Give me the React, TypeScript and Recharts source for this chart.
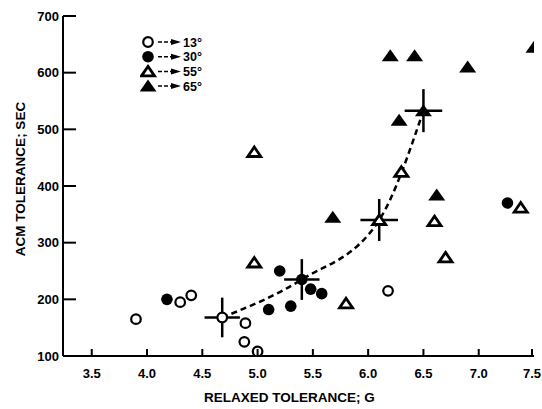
import { ScatterChart, Scatter, XAxis, YAxis, ErrorBar, Legend } from 'recharts'

// 13° group (open circles)
const OPEN_CIRCLE_X = [3.9, 4.3, 4.4, 4.89, 4.88, 5.0, 6.18]
const OPEN_CIRCLE_Y = [165, 195, 207, 158, 125, 108, 215]
// 30° group (filled circles)
const FILLED_CIRCLE_X = [4.18, 5.2, 5.1, 5.3, 5.48, 5.58, 7.26]
const FILLED_CIRCLE_Y = [200, 250, 182, 188, 218, 210, 370]
// 55° group (open triangles)
const OPEN_TRI_X = [4.97, 4.97, 5.8, 6.3, 6.6, 6.7, 7.38]
const OPEN_TRI_Y = [460, 265, 193, 425, 338, 274, 362]
// 65° group (filled triangles)
const FILLED_TRI_X = [5.68, 6.2, 6.42, 6.28, 6.62, 6.9, 7.5]
const FILLED_TRI_Y = [345, 630, 630, 516, 384, 610, 645]

// group means with error bars, in group order 13°, 30°, 55°, 65°
const MEAN_X = [4.68, 5.4, 6.1, 6.5]
const MEAN_Y = [168, 235, 340, 533]
const MEAN_X_ERR = [0.16, 0.16, 0.17, 0.17]
const MEAN_Y_ERR = [35, 36, 37, 38]

const LEGEND_LABELS = ['13°', '30°', '55°', '65°']
const X_TICKS = [3.5, 4.0, 4.5, 5.0, 5.5, 6.0, 6.5, 7.0, 7.5]
const Y_TICKS = [100, 200, 300, 400, 500, 600, 700]

const FONT = '"Liberation Sans", Arial, sans-serif'
const X_TICK_MARGIN = 13
const Y_TICK_MARGIN = 4

const toPoints = (xs: number[], ys: number[]) => xs.map((x, i) => ({ x, y: ys[i] }))

const openCircle = toPoints(OPEN_CIRCLE_X, OPEN_CIRCLE_Y)
const filledCircle = toPoints(FILLED_CIRCLE_X, FILLED_CIRCLE_Y)
const openTri = toPoints(OPEN_TRI_X, OPEN_TRI_Y)
const filledTri = toPoints(FILLED_TRI_X, FILLED_TRI_Y)
const means = MEAN_X.map((x, i) => ({
  x,
  y: MEAN_Y[i],
  ex: MEAN_X_ERR[i],
  ey: MEAN_Y_ERR[i],
  group: i,
}))

function OpenCircle({ cx, cy }: any) {
  return <circle cx={cx} cy={cy} r={4.8} fill="#fff" stroke="#000" strokeWidth={2.2} />
}
function FilledCircle({ cx, cy }: any) {
  return <circle cx={cx} cy={cy} r={5.8} fill="#000" />
}
function OpenTri({ cx, cy }: any) {
  return (
    <path
      d={`M${cx},${cy - 5} L${cx + 6.5},${cy + 4.5} L${cx - 6.5},${cy + 4.5} Z`}
      fill="#fff"
      stroke="#000"
      strokeWidth={2.8}
    />
  )
}
function FilledTri({ cx, cy }: any) {
  return <path d={`M${cx},${cy - 6.5} L${cx + 8.5},${cy + 5.5} L${cx - 8.5},${cy + 5.5} Z`} fill="#000" />
}

const SHAPES = [OpenCircle, FilledCircle, OpenTri, FilledTri]

function MeanShape(props: any) {
  const Shape = SHAPES[props.payload?.group ?? 0]
  return <Shape cx={props.cx} cy={props.cy} />
}

function XTick({ x, y, payload }: any) {
  const axisY = y - X_TICK_MARGIN
  return (
    <g>
      <line x1={x} x2={x} y1={axisY} y2={axisY - 7} stroke="#000" strokeWidth={2} />
      <text x={x} y={y} dy="0.71em" textAnchor="middle" fontFamily={FONT} fontWeight="bold" fontSize={13} fill="#000">
        {Number(payload.value).toFixed(1)}
      </text>
    </g>
  )
}

function YTick({ x, y, payload }: any) {
  const axisX = x + Y_TICK_MARGIN
  return (
    <g>
      <line x1={axisX} x2={axisX + 13} y1={y} y2={y} stroke="#000" strokeWidth={2} />
      <text x={x} y={y} dy="0.35em" textAnchor="end" fontFamily={FONT} fontWeight="bold" fontSize={13} fill="#000">
        {payload.value}
      </text>
    </g>
  )
}

function LegendBox() {
  return (
    <svg width={80} height={62}>
      {LEGEND_LABELS.map((label, i) => {
        const Shape = SHAPES[i]
        const cy = 7 + i * 14.7
        return (
          <g key={label}>
            <Shape cx={8} cy={cy} />
            <line x1={18} x2={33} y1={cy} y2={cy} stroke="#000" strokeWidth={1.5} strokeDasharray="4 2" />
            <path d={`M31,${cy - 3} L41,${cy} L31,${cy + 3} Z`} fill="#000" />
            <text x={43} y={cy} dy="0.38em" fontFamily={FONT} fontWeight="bold" fontSize={12.5} fill="#000">
              {label}
            </text>
          </g>
        )
      })}
    </svg>
  )
}

export default function App() {
  return (
    <div style={{ position: 'absolute', left: 0, top: 0, background: '#fff' }}>
      <ScatterChart width={542} height={409} margin={{ top: 16, right: 8, bottom: 0, left: 0 }}>
        <XAxis
          type="number"
          dataKey="x"
          domain={[3.24, 7.5]}
          ticks={X_TICKS}
          allowDataOverflow
          height={53}
          tickSize={0}
          tickMargin={X_TICK_MARGIN}
          tickLine={false}
          axisLine={{ stroke: '#000', strokeWidth: 2 }}
          tick={<XTick />}
          label={{
            content: (p: any) => {
              const vb = p.viewBox
              return (
                <text
                  x={vb.x + vb.width / 2 - 9}
                  y={vb.y + 46}
                  textAnchor="middle"
                  fontFamily={FONT}
                  fontWeight="bold"
                  fontSize={13.5}
                  fill="#000"
                >
                  RELAXED TOLERANCE; G
                </text>
              )
            },
          }}
        />
        <YAxis
          type="number"
          dataKey="y"
          domain={[100, 700]}
          ticks={Y_TICKS}
          allowDataOverflow
          width={63}
          tickSize={0}
          tickMargin={Y_TICK_MARGIN}
          tickLine={false}
          axisLine={{ stroke: '#000', strokeWidth: 2 }}
          tick={<YTick />}
          label={{
            content: (p: any) => {
              const vb = p.viewBox
              const cx = vb.x + 20
              const cy = vb.y + vb.height / 2 - 7
              return (
                <text
                  x={cx}
                  y={cy}
                  transform={`rotate(-90 ${cx} ${cy})`}
                  textAnchor="middle"
                  dy="0.35em"
                  fontFamily={FONT}
                  fontWeight="bold"
                  fontSize={13.5}
                  fill="#000"
                >
                  ACM TOLERANCE; SEC
                </text>
              )
            },
          }}
        />
        <Legend
          layout="vertical"
          align="center"
          verticalAlign="middle"
          content={<LegendBox />}
          wrapperStyle={{ position: 'absolute', left: 140, top: 35, width: 'auto', height: 'auto' }}
        />
        <Scatter
          data={means}
          shape={() => <g />}
          line={{ stroke: '#000', strokeWidth: 2.5, strokeDasharray: '6 4' }}
          lineJointType="monotoneX"
          isAnimationActive={false}
          legendType="none"
        />
        <Scatter data={openCircle} shape={<OpenCircle />} isAnimationActive={false} />
        <Scatter data={filledCircle} shape={<FilledCircle />} isAnimationActive={false} />
        <Scatter data={openTri} shape={<OpenTri />} isAnimationActive={false} />
        <Scatter data={filledTri} shape={<FilledTri />} isAnimationActive={false} />
        <Scatter data={means} shape={<MeanShape />} isAnimationActive={false}>
          <ErrorBar dataKey="ex" direction="x" width={0} stroke="#000" strokeWidth={2.5} />
          <ErrorBar dataKey="ey" direction="y" width={0} stroke="#000" strokeWidth={2.5} />
        </Scatter>
      </ScatterChart>
    </div>
  )
}
